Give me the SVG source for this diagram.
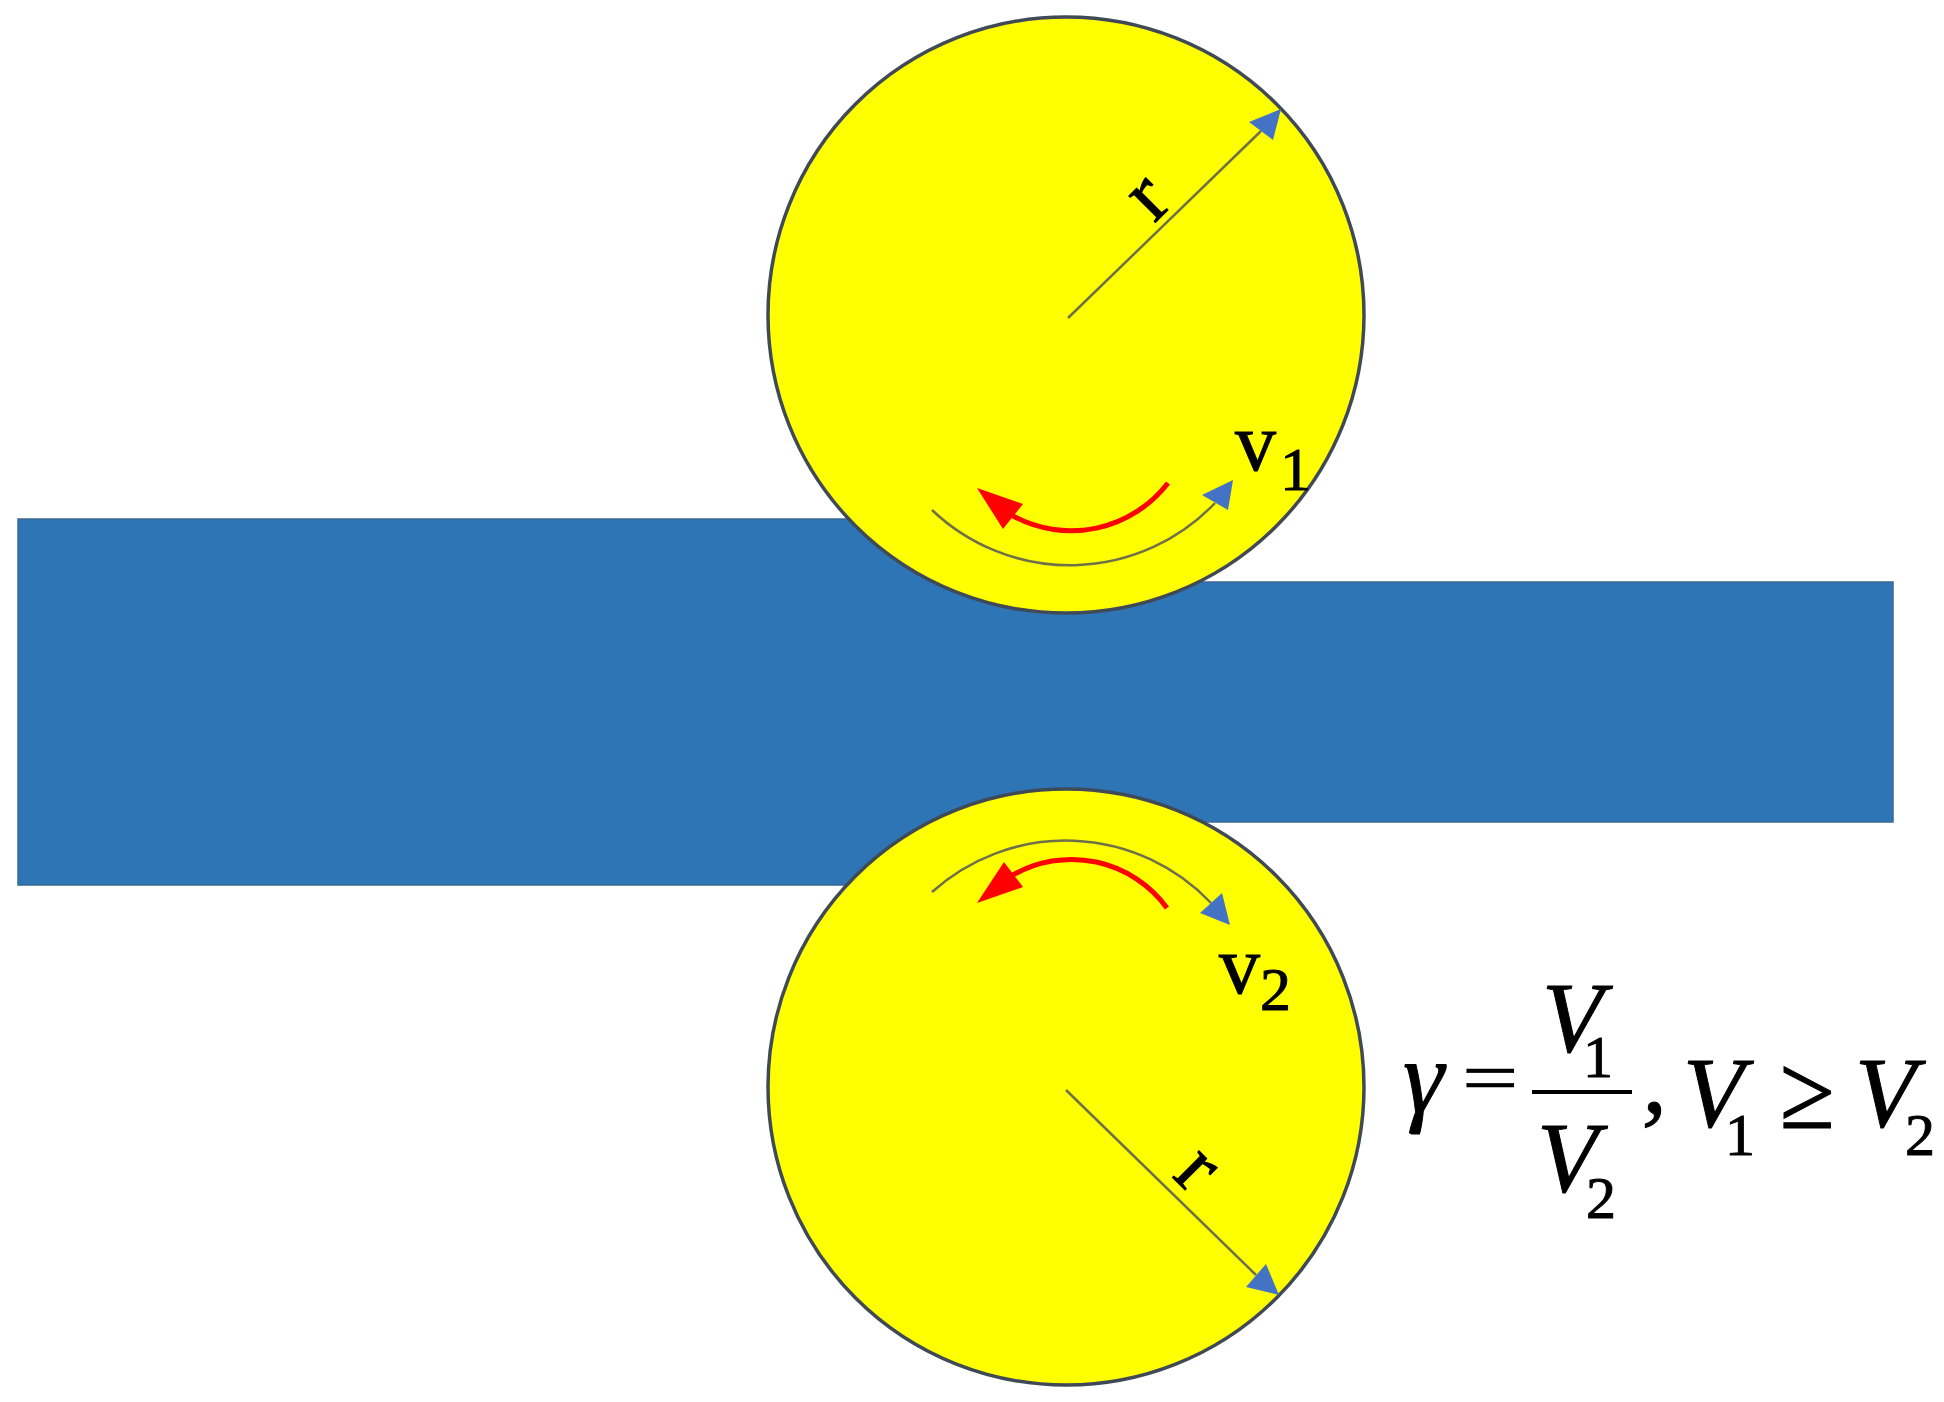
<svg xmlns="http://www.w3.org/2000/svg" width="1944" height="1402" viewBox="0 0 1944 1402">
  <style>
    .bar { fill: #2E75B6; stroke: #3c6a94; stroke-width: 1.5; }
    .roller { fill: #FFFF00; stroke: #3f4a56; stroke-width: 3.5; }
    .thin { fill: none; stroke: #6e7048; stroke-width: 2.5; }
    .red { fill: none; stroke: #FF0000; stroke-width: 5; }
    .bhead { fill: #4472C4; }
    .rhead { fill: #FF0000; }
    .lbl { font-family: "Liberation Serif", "Times New Roman", serif; fill: #000; stroke: #000; stroke-width: 1; }
    .it { font-family: "Liberation Serif", "Times New Roman", serif; font-style: italic; fill: #000; stroke: #000; stroke-width: 1; }
  </style>
  <rect width="1944" height="1402" fill="#FFFFFF"/>
  <g id="strip">
    <path class="bar" d="M18,519 H1066 V582 H1893 V822 H1066 V885 H18 Z"/>
  </g>
  <g id="top-roller">
    <circle class="roller" cx="1066" cy="315" r="298"/>
    <text class="lbl" font-size="82" text-anchor="middle" transform="translate(1164,214) rotate(-45)">r</text>
    <text class="lbl" font-size="82" x="1235" y="470">v</text>
    <text class="lbl" font-size="62" x="1280" y="490">1</text>
  </g>
  <g id="bottom-roller">
    <circle class="roller" cx="1066" cy="1087" r="298"/>
    <text class="lbl" font-size="82" text-anchor="middle" transform="translate(1181,1186) rotate(45)">r</text>
    <text class="lbl" font-size="82" x="1219" y="993">v</text>
    <text class="lbl" font-size="62" x="1260" y="1010">2</text>
  </g>
  <g id="connectors">
    <line class="thin" x1="1068" y1="318" x2="1261" y2="131"/>
    <polygon class="bhead" points="1281,109 1249,122 1273,140"/>
    <line class="thin" x1="1066" y1="1090" x2="1256" y2="1275"/>
    <polygon class="bhead" points="1279,1295 1246,1287 1266,1264"/>
    <path class="thin" d="M932,510 A200,200 0 0 0 1215,503"/>
    <polygon class="bhead" points="1233,480 1202,495 1228,510"/>
    <path class="red" d="M1168,483 A122,122 0 0 1 1013,516"/>
    <polygon class="rhead" points="977,488 1003,529 1023,504"/>
    <path class="thin" d="M932,892 A200,200 0 0 1 1211,903"/>
    <polygon class="bhead" points="1230,925 1200,913 1222,893"/>
    <path class="red" d="M1167,908 A118,118 0 0 0 1013,875"/>
    <polygon class="rhead" points="977,903 1004,862 1023,887"/>
  </g>
  <g id="formula">
    <text class="it" font-size="104" x="1403" y="1112">γ</text>
    <text class="lbl" font-size="100" transform="translate(1462,1102) scale(1,0.72)">=</text>
    <text class="it" font-size="100" x="1542" y="1051">V</text>
    <text class="lbl" font-size="60" x="1583" y="1077">1</text>
    <rect x="1532" y="1090" width="100" height="4" fill="#000"/>
    <text class="it" font-size="100" x="1537" y="1191">V</text>
    <text class="lbl" font-size="60" x="1586" y="1218">2</text>
    <text class="it" font-size="100" x="1642" y="1112">,</text>
    <text class="it" font-size="100" x="1683" y="1126">V</text>
    <text class="lbl" font-size="60" x="1725" y="1155">1</text>
    <text class="lbl" font-size="100" transform="translate(1780,1128) scale(1,1.07)">≥</text>
    <text class="it" font-size="100" x="1855" y="1126">V</text>
    <text class="lbl" font-size="60" x="1905" y="1155">2</text>
  </g>
</svg>
